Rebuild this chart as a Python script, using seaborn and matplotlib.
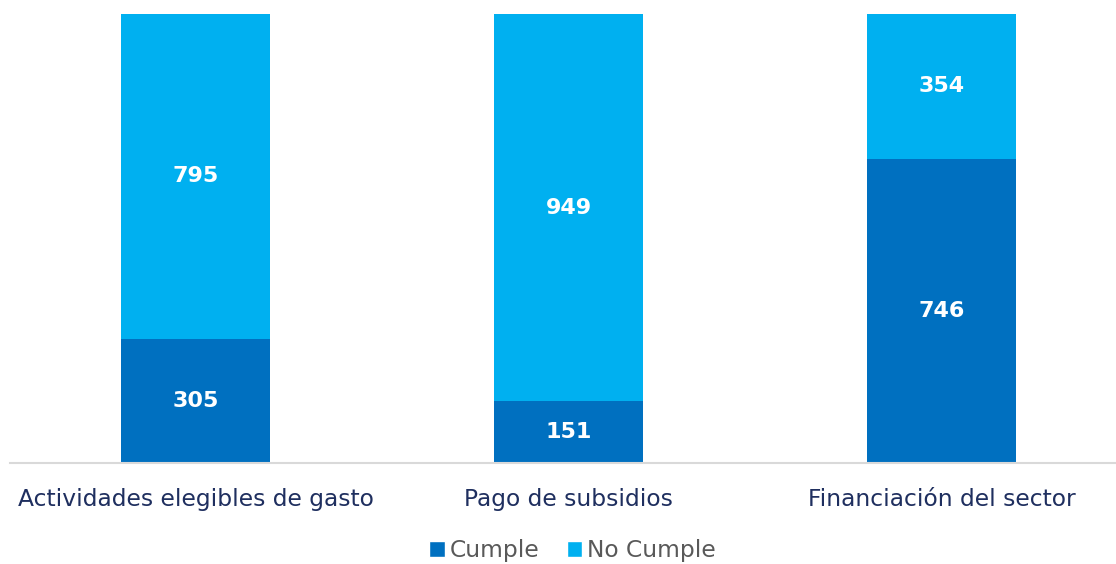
import matplotlib
matplotlib.use('Agg')
import matplotlib.pyplot as plt
from matplotlib.patches import Patch
import pandas as pd
import seaborn as sns

# data
categories = ['Actividades elegibles de gasto', 'Pago de subsidios', 'Financiación del sector']
cumple = [305, 151, 746]
no_cumple = [795, 949, 354]

color_cumple = '#0070C0'
color_no = '#00B0F0'

sns.set_style('white')
plt.rcParams['font.family'] = ['DejaVu Sans']

df = pd.DataFrame({'categoria': categories, 'Cumple': cumple, 'No Cumple': no_cumple})
df['total'] = df['Cumple'] + df['No Cumple']

fig = plt.figure(figsize=(11.16, 5.64), dpi=100)
ax = fig.add_axes([0.009, 0.179, 0.991, 0.796])

# stacked bars: total first (light), then Cumple on top of it (dark)
sns.barplot(data=df, x='categoria', y='total', color=color_no, width=0.4,
            saturation=1, ax=ax, edgecolor='none')
sns.barplot(data=df, x='categoria', y='Cumple', color=color_cumple, width=0.4,
            saturation=1, ax=ax, edgecolor='none')

# value labels
for i, row in df.iterrows():
    ax.text(i, row['Cumple'] / 2, f"{row['Cumple']}", ha='center', va='center',
            color='white', fontsize=16, fontweight='bold')
    ax.text(i, row['Cumple'] + row['No Cumple'] / 2, f"{row['No Cumple']}",
            ha='center', va='center', color='white', fontsize=16, fontweight='bold')

ax.set_xlim(-0.497, 2.467)
ax.set_ylim(0, 1100)
ax.set_xlabel('')
ax.set_ylabel('')
ax.set_yticks([])
ax.tick_params(axis='x', length=0, pad=18, labelsize=16.8, labelcolor='#1F2F5F')

for s in ['top', 'left', 'right']:
    ax.spines[s].set_visible(False)
ax.spines['bottom'].set_color('#D9D9D9')
ax.spines['bottom'].set_linewidth(1.5)

handles = [Patch(facecolor=color_cumple, label='Cumple'),
           Patch(facecolor=color_no, label='No Cumple')]
fig.legend(handles=handles, loc='center', bbox_to_anchor=(0.513, 0.024), ncol=2,
           frameon=False, fontsize=16.8, handlelength=0.65, handleheight=0.65,
           handletextpad=0.2, columnspacing=1.2, labelcolor='#595959')

fig.savefig('out.png', dpi=100)
